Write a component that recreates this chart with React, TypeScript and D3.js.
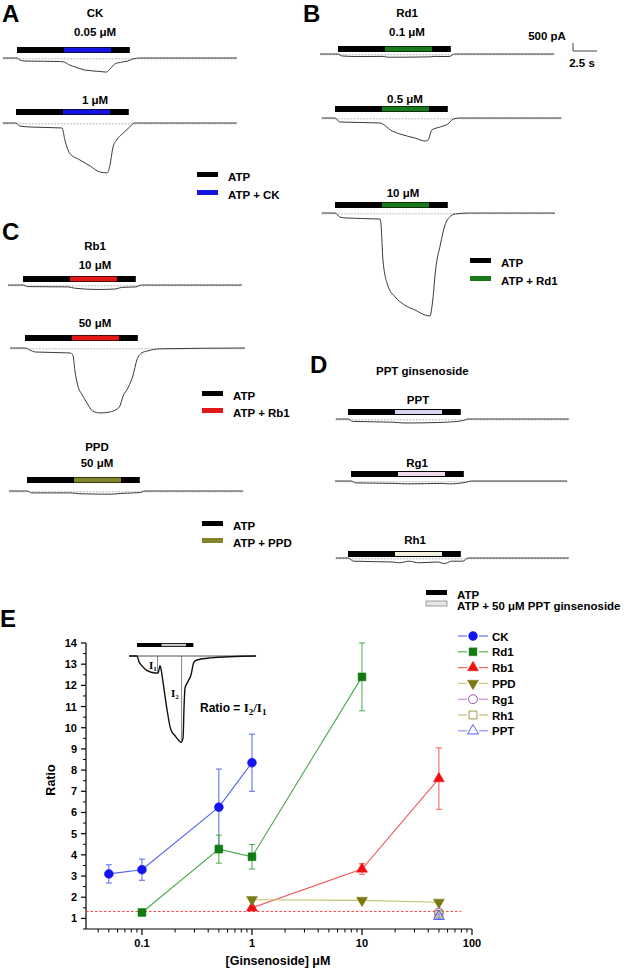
import React from "react";
import * as d3 from "d3";

const FONT = "'Liberation Sans', Arial, Helvetica, sans-serif";
const SERIF = "'Liberation Serif', 'Times New Roman', serif";

// ---- current traces: [time (s), current (nA)] ----
const traceCK005: [number, number][] = [[-1.5, 0], [0, 0], [0.3, -0.12], [0.85, -0.19], [4.6, -0.22], [5.0, -0.25], [5.6, -0.44], [6.2, -0.56], [7.2, -0.75], [8.8, -0.84], [9.5, -0.88], [9.9, -0.69], [10.4, -0.38], [11.2, -0.25], [11.8, -0.19], [12.3, -0.06], [13.1, 0], [23.4, 0]];
const traceCK1: [number, number][] = [[-1.4, 0], [0, 0], [0.4, -0.19], [1.5, -0.25], [4.9, -0.31], [5.2, -1.06], [5.7, -1.88], [6.8, -2.31], [7.9, -2.69], [8.9, -3.06], [9.7, -3.12], [10.0, -2.62], [10.3, -1.56], [10.7, -1.06], [11.3, -0.69], [12.1, -0.25], [12.6, 0], [23.5, 0]];
const traceRd01: [number, number][] = [[-1.9, 0], [0, 0], [0.4, -0.12], [2, -0.16], [4.8, -0.15], [5.3, -0.2], [7, -0.2], [9.8, -0.18], [10.4, -0.15], [11.8, -0.16], [12.4, 0], [23, 0]];
const traceRd05: [number, number][] = [[-1.4, 0], [0, 0], [0.5, -0.25], [4.8, -0.31], [5.1, -0.38], [5.9, -0.75], [6.9, -1.0], [8.5, -1.25], [9.6, -1.44], [9.9, -1.38], [10.3, -0.75], [11.2, -0.56], [12.0, -0.38], [12.6, -0.06], [13.3, 0], [24.1, 0]];
const traceRd10: [number, number][] = [[-1.4, 0], [0, 0], [0.5, -0.25], [1.1, -0.31], [4.8, -0.38], [4.9, -0.75], [5.1, -2.94], [5.6, -4.5], [6.4, -5.25], [7.4, -5.75], [8.5, -6.06], [9.6, -6.38], [10.1, -6.44], [10.4, -5.44], [10.7, -3.56], [11.2, -2.0], [11.7, -0.75], [12.2, -0.25], [12.8, -0.06], [14.4, 0], [23.4, 0]];
const traceRb10: [number, number][] = [[-1.6, 0], [0, 0], [0.5, -0.1], [4.8, -0.12], [5.5, -0.2], [8, -0.28], [9.8, -0.25], [10.5, -0.15], [12, -0.12], [12.6, 0], [23.3, 0]];
const traceRb50: [number, number][] = [[-1.6, 0], [0, 0], [0.5, -0.12], [1.1, -0.25], [4.8, -0.31], [5.1, -0.44], [5.3, -1.38], [5.6, -2.31], [6.1, -2.94], [6.6, -3.44], [7.2, -3.94], [8.0, -4.06], [9.0, -4.0], [9.8, -3.81], [10.1, -3.62], [10.4, -3.06], [11.0, -2.44], [11.5, -1.69], [11.9, -0.75], [12.4, -0.31], [13.0, -0.19], [14.4, -0.05], [23.4, 0]];
const tracePPD50: [number, number][] = [[-1.9, 0], [0, 0], [0.5, -0.12], [4.8, -0.12], [5.5, -0.17], [9, -0.2], [10, -0.15], [12, -0.1], [12.5, 0], [23, 0]];
const tracePPT: [number, number][] = [[-1.3, 0], [0, 0], [0.5, -0.15], [4.8, -0.2], [6, -0.25], [9.5, -0.22], [10.5, -0.2], [12.2, -0.1], [12.8, 0], [23.5, 0]];
const traceRg1: [number, number][] = [[-1.7, 0], [0, 0], [0.5, -0.12], [4.8, -0.15], [6, -0.18], [9.6, -0.15], [10.5, -0.18], [12.2, -0.08], [12.8, 0], [23, 0]];
const traceRh1: [number, number][] = [[-1.3, 0], [0, 0], [0.6, -0.2], [4.8, -0.25], [5.5, -0.3], [6.5, -0.2], [7.5, -0.3], [9.5, -0.25], [10.3, -0.35], [11, -0.2], [12.2, -0.2], [12.8, 0], [23.5, 0]];
const traceInset: [number, number][] = [[-1.6, 0], [0, 0], [0.4, -0.35], [1.0, -0.62], [2.0, -0.9], [3.7, -1.06], [4.3, -1.06], [4.7, -0.6], [4.9, -0.8], [5.3, -1.6], [6.1, -3.3], [6.9, -4.6], [7.8, -5.0], [8.6, -5.3], [9.0, -5.4], [9.4, -5.1], [9.6, -3.2], [9.8, -2.0], [10.4, -1.6], [11.0, -1.2], [11.6, -0.4], [12.2, -0.25], [14.9, -0.12], [24.3, 0]];

// application protocol: ATP | ATP + drug | ATP (s)
const barTimes = [0, 5, 10, 12];
const insetBarTimes = [0, 5, 10, 11.5];

// ---- panel E: ratio I2/I1 vs concentration ----
const concCK = [0.05, 0.1, 0.5, 1];
const ratioCK = [3.1, 3.3, 6.25, 8.35];
const errCK = [0.43, 0.5, 1.8, 1.35];
const concRd1 = [0.1, 0.5, 1, 10];
const ratioRd1 = [1.28, 4.27, 3.91, 12.4];
const errRd1 = [0.05, 0.66, 0.58, 1.6];
const concRb1 = [1, 10, 50];
const ratioRb1 = [1.5, 3.33, 7.6];
const errRb1 = [0.08, 0.25, 1.45];
const concPPD = [1, 10, 50];
const ratioPPD = [1.88, 1.85, 1.76];
const errPPD = [0.1, 0.08, 0.08];
const concRg1 = [50];
const ratioRg1 = [1.28];
const errRg1 = [0.1];
const concRh1 = [50];
const ratioRh1 = [1.2];
const errRh1 = [0.1];
const concPPT = [50];
const ratioPPT = [1.1];
const errPPT = [0.1];
const controlRatio = 1.33;
const yTicks = d3.range(1, 15);
const xTicks = [0.1, 1, 10, 100];

const PX_PER_S = 9.4;
const PX_PER_NA = 16;

type Pt = [number, number];

function Recording(props: {
  x0: number; base: number; barY: number; data: Pt[]; drug: string; edge?: boolean;
  cx: number; labels: { text: string; y: number }[];
}) {
  const { x0, base, barY, data, drug, edge, cx, labels } = props;
  const x = d3.scaleLinear().domain([0, 1]).range([x0, x0 + PX_PER_S]);
  const y = d3.scaleLinear().domain([0, -1]).range([base, base + PX_PER_NA]);
  const line = d3.line<Pt>().x(d => x(d[0])).y(d => y(d[1])).curve(d3.curveMonotoneX);
  const t0 = data[0][0];
  const t1 = data[data.length - 1][0];
  return (
    <g>
      {labels.map(l => (
        <text key={l.text + l.y} x={cx} y={l.y} textAnchor="middle" fontSize={11.5} fontWeight="bold" fontFamily={FONT}>{l.text}</text>
      ))}
      <rect x={x(barTimes[0])} y={barY} width={x(barTimes[3]) - x(barTimes[0])} height={6} fill="#000" />
      <rect x={x(barTimes[1])} y={barY + (edge ? 1 : 0.6)} width={x(barTimes[2]) - x(barTimes[1])} height={edge ? 4 : 4.8} fill={drug} />
      <line x1={x(t0)} x2={x(t1)} y1={base + 0.8} y2={base + 0.8} stroke="#aaa" strokeWidth={0.8} strokeDasharray="2,1.2" />
      <path d={line(data) || ""} fill="none" stroke="#3a3a3a" strokeWidth={1} />
    </g>
  );
}

function LegendBars(props: { x: number; y: number; drug: string; text: string; edge?: boolean; gap?: number }) {
  const { x, y, drug, text, edge, gap = 18 } = props;
  return (
    <g fontFamily={FONT} fontWeight="bold" fontSize={11.5}>
      <rect x={x} y={y} width={21} height={5} fill="#000" />
      <text x={x + 31} y={y + 9}>ATP</text>
      <rect x={x} y={y + gap} width={21} height={5} fill={drug} stroke={edge ? "#888" : "none"} strokeWidth={0.8} />
      <text x={x + 31} y={y + gap + 9}>{text}</text>
    </g>
  );
}

function Letter({ x, y, c }: { x: number; y: number; c: string }) {
  return <text x={x} y={y} fontSize={24} fontWeight="bold" fontFamily={FONT}>{c}</text>;
}

const seriesE = [
  { name: "CK", conc: concCK, ratio: ratioCK, err: errCK, line: "#5565f2", mark: "#1414ee", sym: d3.symbolCircle, rot: 0, open: false },
  { name: "Rd1", conc: concRd1, ratio: ratioRd1, err: errRd1, line: "#4aa84a", mark: "#137a13", sym: d3.symbolSquare, rot: 0, open: false },
  { name: "Rb1", conc: concRb1, ratio: ratioRb1, err: errRb1, line: "#f25858", mark: "#f01010", sym: d3.symbolTriangle, rot: 0, open: false },
  { name: "PPD", conc: concPPD, ratio: ratioPPD, err: errPPD, line: "#c4c474", mark: "#7a7a12", sym: d3.symbolTriangle, rot: 180, open: false },
  { name: "Rg1", conc: concRg1, ratio: ratioRg1, err: errRg1, line: "#c888d8", mark: "#a050c0", sym: d3.symbolCircle, rot: 0, open: true },
  { name: "Rh1", conc: concRh1, ratio: ratioRh1, err: errRh1, line: "#bcbc74", mark: "#9a9a40", sym: d3.symbolSquare, rot: 0, open: true },
  { name: "PPT", conc: concPPT, ratio: ratioPPT, err: errPPT, line: "#8890f0", mark: "#5060f0", sym: d3.symbolTriangle, rot: 0, open: true },
];

function Marker({ s, x, y }: { s: typeof seriesE[number]; x: number; y: number }) {
  const d = d3.symbol().type(s.sym).size(s.sym === d3.symbolTriangle ? 52 : 62)() || "";
  return (
    <path d={d} transform={`translate(${x},${y}) rotate(${s.rot})`}
      fill={s.open ? "none" : s.mark} stroke={s.mark} strokeWidth={s.open ? 1 : 0.5} />
  );
}

function PanelE() {
  const x = d3.scaleLog().domain([0.031, 100]).range([86, 472]);
  const y = d3.scaleLinear().domain([0.5, 14]).range([929, 643]);
  const minorX: number[] = [];
  [0.01, 0.1, 1, 10].forEach(dec => d3.range(2, 10).forEach(k => {
    const v = dec * k;
    if (v >= 0.031 && v <= 100) minorX.push(v);
  }));
  const minorY = d3.range(0.5, 14, 1);

  // inset trace
  const ix = d3.scaleLinear().domain([0, 1]).range([137, 137 + 4.9]);
  const iy = d3.scaleLinear().domain([0, -1]).range([656, 656 + 16]);
  const iline = d3.line<Pt>().x(d => ix(d[0])).y(d => iy(d[1])).curve(d3.curveMonotoneX);

  return (
    <g fontFamily={FONT} fontWeight="bold">
      {/* inset */}
      <rect x={ix(insetBarTimes[0])} y={643} width={ix(insetBarTimes[3]) - ix(insetBarTimes[0])} height={4} fill="#000" />
      <rect x={ix(insetBarTimes[1])} y={643.8} width={ix(insetBarTimes[2]) - ix(insetBarTimes[1])} height={2.4} fill="#c8c8c8" />
      <line x1={ix(-1.6)} x2={ix(24.3)} y1={656} y2={656} stroke="#222" strokeWidth={0.8} />
      <path d={iline(traceInset) || ""} fill="none" stroke="#111" strokeWidth={1.4} />
      <line x1={ix(4.2)} x2={ix(4.2)} y1={656} y2={iy(-1.02)} stroke="#555" strokeWidth={0.7} />
      <line x1={ix(9.1)} x2={ix(9.1)} y1={656} y2={iy(-5.35)} stroke="#555" strokeWidth={0.7} />
      <text x={149} y={669} fontFamily={SERIF} fontSize={11}>I<tspan fontSize={7} dy={2}>1</tspan></text>
      <text x={171} y={697} fontFamily={SERIF} fontSize={11}>I<tspan fontSize={7} dy={2}>2</tspan></text>
      <text x={200} y={712} fontSize={12}>Ratio = <tspan fontFamily={SERIF} fontSize={13}>I</tspan><tspan fontFamily={SERIF} fontSize={9} dy={3}>2</tspan><tspan fontFamily={SERIF} fontSize={13} dy={-3}>/I</tspan><tspan fontFamily={SERIF} fontSize={9} dy={3}>1</tspan></text>

      {/* axes */}
      <line x1={86} x2={86} y1={y(14)} y2={y(0.5)} stroke="#000" strokeWidth={1.2} />
      <line x1={86} x2={472} y1={y(0.5)} y2={y(0.5)} stroke="#000" strokeWidth={1.2} />
      {yTicks.map(t => (
        <g key={"y" + t}>
          <line x1={81} x2={86} y1={y(t)} y2={y(t)} stroke="#000" strokeWidth={1.2} />
          <text x={77} y={y(t) + 4} textAnchor="end" fontSize={11}>{t}</text>
        </g>
      ))}
      {minorY.map(t => <line key={"my" + t} x1={83} x2={86} y1={y(t)} y2={y(t)} stroke="#000" strokeWidth={1} />)}
      {xTicks.map(t => (
        <g key={"x" + t}>
          <line x1={x(t)} x2={x(t)} y1={929} y2={935} stroke="#000" strokeWidth={1.2} />
          <text x={x(t)} y={947} textAnchor="middle" fontSize={11}>{t}</text>
        </g>
      ))}
      {minorX.map(t => <line key={"mx" + t} x1={x(t)} x2={x(t)} y1={929} y2={932.5} stroke="#000" strokeWidth={1} />)}
      <text x={278} y={965} textAnchor="middle" fontSize={12.5}>[Ginsenoside] μM</text>
      <text transform="translate(55,780) rotate(-90)" textAnchor="middle" fontSize={12.5}>Ratio</text>

      {/* control level */}
      <line x1={x(0.031)} x2={x(80)} y1={y(controlRatio)} y2={y(controlRatio)} stroke="#ff4040" strokeWidth={1} strokeDasharray="2.5,2" />

      {/* series */}
      {seriesE.map(s => {
        const pts = s.conc.map((c, i) => [c, s.ratio[i]] as Pt);
        const line = d3.line<Pt>().x(d => x(d[0])).y(d => y(d[1]));
        return (
          <g key={s.name}>
            {pts.length > 1 && <path d={line(pts) || ""} fill="none" stroke={s.line} strokeWidth={1.1} />}
            {pts.map((p, i) => {
              const cx = x(p[0]);
              const e = s.err[i];
              return (
                <g key={i} stroke={s.line} strokeWidth={1}>
                  <line x1={cx} x2={cx} y1={y(p[1] - e)} y2={y(p[1] + e)} />
                  <line x1={cx - 3} x2={cx + 3} y1={y(p[1] + e)} y2={y(p[1] + e)} />
                  <line x1={cx - 3} x2={cx + 3} y1={y(p[1] - e)} y2={y(p[1] - e)} />
                </g>
              );
            })}
            {pts.map((p, i) => <Marker key={"m" + i} s={s} x={x(p[0])} y={y(p[1])} />)}
          </g>
        );
      })}

      {/* legend */}
      {seriesE.map((s, i) => {
        const ly = 636 + i * 15.8;
        return (
          <g key={"lg" + s.name}>
            <line x1={458} x2={488} y1={ly} y2={ly} stroke={s.line} strokeWidth={1.1} />
            <rect x={467} y={ly - 5} width={12} height={10} fill="#fff" />
            <Marker s={s} x={473} y={ly} />
            <text x={492} y={ly + 4.5} fontSize={11.5}>{s.name}</text>
          </g>
        );
      })}
    </g>
  );
}

export default function App() {
  return (
    <svg width={629} height={969} viewBox="0 0 629 969" style={{ position: "absolute", left: 0, top: 0, background: "#fff" }}>
      <rect width={629} height={969} fill="#fff" />
      <Letter x={2} y={22} c="A" />
      <Letter x={303} y={22} c="B" />
      <Letter x={2} y={240} c="C" />
      <Letter x={310} y={373} c="D" />
      <Letter x={0} y={627} c="E" />

      {/* A: CK */}
      <Recording x0={17} base={58} barY={47} data={traceCK005} drug="#1515e0" cx={95}
        labels={[{ text: "CK", y: 17 }, { text: "0.05  μM", y: 36 }]} />
      <Recording x0={16} base={123} barY={109} data={traceCK1} drug="#1515e0" cx={95}
        labels={[{ text: "1  μM", y: 104 }]} />
      <LegendBars x={197} y={172} drug="#1515e0" text="ATP + CK" />

      {/* B: Rd1 */}
      <Recording x0={338} base={54} barY={46} data={traceRd01} drug="#1a7a1a" cx={407}
        labels={[{ text: "Rd1", y: 17 }, { text: "0.1  μM", y: 36 }]} />
      <Recording x0={335} base={118} barY={106} data={traceRd05} drug="#1a7a1a" cx={405}
        labels={[{ text: "0.5  μM", y: 103 }]} />
      <Recording x0={335} base={213} barY={202} data={traceRd10} drug="#1a7a1a" cx={403}
        labels={[{ text: "10  μM", y: 197 }]} />
      <LegendBars x={470} y={258} drug="#1a7a1a" text="ATP + Rd1" />
      <g fontFamily={FONT} fontWeight="bold" fontSize={11.5}>
        <text x={547} y={40} textAnchor="middle">500  pA</text>
        <text x={582} y={67} textAnchor="middle">2.5  s</text>
        <path d="M573,43 V51 H597" fill="none" stroke="#444" strokeWidth={1} />
      </g>

      {/* C: Rb1 / PPD */}
      <Recording x0={23} base={285} barY={276} data={traceRb10} drug="#e01818" cx={95}
        labels={[{ text: "Rb1", y: 250 }, { text: "10  μM", y: 269 }]} />
      <Recording x0={25} base={348} barY={335} data={traceRb50} drug="#e01818" cx={95}
        labels={[{ text: "50  μM", y: 327 }]} />
      <LegendBars x={202} y={391} drug="#e01818" text="ATP + Rb1" gap={17} />
      <Recording x0={27} base={491} barY={477} data={tracePPD50} drug="#84842a" cx={97}
        labels={[{ text: "PPD", y: 451 }, { text: "50  μM", y: 467 }]} />
      <LegendBars x={202} y={521} drug="#84842a" text="ATP + PPD" gap={17} />

      {/* D: PPT ginsenosides */}
      <text x={376} y={375} fontFamily={FONT} fontWeight="bold" fontSize={11.5}>PPT ginsenoside</text>
      <Recording x0={348} base={419} barY={409} data={tracePPT} drug="#d8d4f2" edge cx={418}
        labels={[{ text: "PPT", y: 404 }]} />
      <Recording x0={351} base={481} barY={471} data={traceRg1} drug="#f0d8ef" edge cx={417}
        labels={[{ text: "Rg1", y: 467 }]} />
      <Recording x0={348} base={558} barY={551} data={traceRh1} drug="#f2f0dc" edge cx={415}
        labels={[{ text: "Rh1", y: 544 }]} />
      <LegendBars x={426} y={590} drug="#e6e6e6" edge text="ATP + 50  μM PPT ginsenoside" gap={11} />

      <PanelE />
    </svg>
  );
}
